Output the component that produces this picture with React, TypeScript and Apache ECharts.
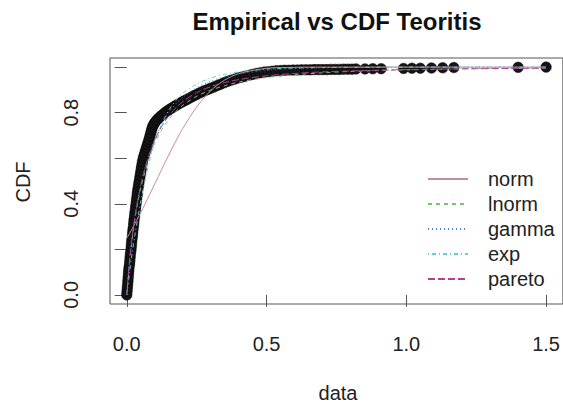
import React, { useEffect, useRef } from "react";
import * as echarts from "echarts";

const ecdfX = [
  0.000, 0.001, 0.002, 0.003, 0.004, 0.005, 0.006, 0.007, 0.008, 0.010,
  0.011, 0.012, 0.013, 0.015, 0.016, 0.017, 0.018, 0.020, 0.021, 0.022,
  0.024, 0.025, 0.026, 0.028, 0.029, 0.031, 0.032, 0.034, 0.035, 0.037,
  0.038, 0.040, 0.042, 0.044, 0.046, 0.048, 0.050, 0.052, 0.054, 0.056,
  0.059, 0.062, 0.065, 0.068, 0.071, 0.074, 0.077, 0.080, 0.083, 0.086,
  0.089, 0.092, 0.096, 0.100, 0.105, 0.110, 0.116, 0.122, 0.128, 0.135,
  0.142, 0.150, 0.158, 0.166, 0.174, 0.182, 0.190, 0.198, 0.206, 0.214,
  0.223, 0.232, 0.241, 0.250, 0.260, 0.270, 0.280, 0.290, 0.300, 0.312,
  0.324, 0.336, 0.348, 0.360, 0.372, 0.385, 0.398, 0.411, 0.424, 0.437,
  0.450, 0.464, 0.478, 0.492, 0.506, 0.520, 0.535, 0.550, 0.565, 0.580,
  0.595, 0.610, 0.625, 0.640, 0.655, 0.670, 0.685, 0.700, 0.715, 0.730,
  0.745, 0.760, 0.775, 0.790, 0.805, 0.820, 0.852, 0.880, 0.910, 0.990,
  1.020, 1.050, 1.090, 1.130, 1.170, 1.400, 1.500,
];
const ecdfY = [
  0.000, 0.015, 0.030, 0.045, 0.060, 0.075, 0.090, 0.105, 0.120, 0.135,
  0.150, 0.165, 0.180, 0.195, 0.210, 0.225, 0.240, 0.255, 0.270, 0.285,
  0.300, 0.315, 0.330, 0.345, 0.360, 0.375, 0.390, 0.405, 0.420, 0.435,
  0.450, 0.465, 0.480, 0.495, 0.510, 0.525, 0.540, 0.555, 0.570, 0.585,
  0.600, 0.612, 0.624, 0.636, 0.648, 0.660, 0.672, 0.684, 0.698, 0.712,
  0.726, 0.738, 0.748, 0.756, 0.764, 0.771, 0.778, 0.785, 0.791, 0.798,
  0.805, 0.812, 0.818, 0.824, 0.830, 0.836, 0.842, 0.847, 0.852, 0.857,
  0.863, 0.869, 0.875, 0.880, 0.886, 0.892, 0.897, 0.902, 0.907, 0.913,
  0.919, 0.925, 0.931, 0.937, 0.942, 0.947, 0.952, 0.956, 0.960, 0.964,
  0.968, 0.972, 0.975, 0.978, 0.980, 0.982, 0.984, 0.985, 0.986, 0.986,
  0.987, 0.987, 0.988, 0.988, 0.988, 0.989, 0.989, 0.989, 0.989, 0.990,
  0.990, 0.990, 0.991, 0.991, 0.991, 0.992, 0.992, 0.993, 0.993, 0.994,
  0.995, 0.995, 0.996, 0.997, 0.998, 0.999, 1.000,
];

const fitX = [
  0, 0.01, 0.02, 0.03, 0.04, 0.05, 0.065, 0.08, 0.1, 0.125, 0.15, 0.175,
  0.2, 0.25, 0.3, 0.35, 0.4, 0.5, 0.6, 0.7, 0.8, 1.0, 1.25, 1.5,
];
const normY = [
  0.249, 0.270, 0.292, 0.314, 0.338, 0.361, 0.398, 0.436, 0.487, 0.551, 0.614, 0.674,
  0.730, 0.825, 0.896, 0.943, 0.971, 0.995, 0.999, 1.0, 1.0, 1.0, 1.0, 1.0,
];
const lnormY = [
  0, 0.14, 0.25, 0.34, 0.41, 0.47, 0.54, 0.60, 0.665, 0.725, 0.77, 0.805,
  0.832, 0.872, 0.899, 0.918, 0.934, 0.954, 0.966, 0.975, 0.981, 0.988, 0.993, 0.995,
];
const gammaY = [
  0, 0.16, 0.27, 0.35, 0.42, 0.48, 0.555, 0.615, 0.685, 0.75, 0.80, 0.838,
  0.866, 0.91, 0.938, 0.957, 0.97, 0.986, 0.994, 0.997, 0.999, 1.0, 1.0, 1.0,
];
const expY = [
  0, 0.10, 0.19, 0.27, 0.34, 0.41, 0.50, 0.58, 0.67, 0.75, 0.81, 0.853,
  0.885, 0.925, 0.952, 0.968, 0.979, 0.991, 0.996, 0.998, 0.999, 1.0, 1.0, 1.0,
];
const paretoY = [
  0, 0.15, 0.26, 0.35, 0.42, 0.48, 0.555, 0.615, 0.68, 0.74, 0.785, 0.82,
  0.848, 0.888, 0.914, 0.932, 0.945, 0.962, 0.972, 0.979, 0.983, 0.989, 0.993, 0.995,
];

const fitNames = ["norm", "lnorm", "gamma", "exp", "pareto"];
const fitValues = [normY, lnormY, gammaY, expY, paretoY];
const fitColors = ["#c98d99", "#78c46c", "#4a80d2", "#5fd0d4", "#b0409c"];
const fitDash: any[] = ["solid", [4, 4], [1, 3], [1, 3, 4, 3], [7, 3]];

const xTicks = [0, 0.5, 1.0, 1.5];
const yTicks = [0, 0.2, 0.4, 0.6, 0.8, 1.0];
const yLabels = [0, 0.4, 0.8];

const FONT = "'Liberation Sans', Arial, sans-serif";

export default function App() {
  const ref = useRef<HTMLDivElement>(null);
  useEffect(() => {
    if (!ref.current) return;
    const chart = echarts.init(ref.current, undefined, { renderer: "svg" });
    const zip = (xs: number[], ys: number[]) => xs.map((x, i) => [x, ys[i]]);
    const series: any[] = [
      {
        type: "scatter",
        name: "empirical",
        data: zip(ecdfX, ecdfY),
        symbol: "circle",
        symbolSize: 10.5,
        itemStyle: { color: "#151515", borderColor: "#000", borderWidth: 0.5, opacity: 1 },
        silent: true,
        z: 2,
      },
      ...fitNames.map((n, k) => ({
        type: "line",
        name: n,
        data: zip(fitX, fitValues[k]),
        symbol: "none",
        showSymbol: false,
        smooth: 0.3,
        lineStyle: { color: fitColors[k], width: 1, type: fitDash[k] },
        itemStyle: { color: fitColors[k] },
        z: 3,
      })),
    ];
    chart.setOption({
      animation: false,
      backgroundColor: "#ffffff",
      grid: {
        left: 110,
        top: 58,
        right: -1,
        bottom: 101,
        show: true,
        borderColor: "#555",
        borderWidth: 1,
        containLabel: false,
      },
      xAxis: {
        type: "value",
        min: -0.06,
        max: 1.56,
        splitLine: { show: false },
        axisLine: { show: false },
        axisTick: {
          show: true,
          inside: false,
          length: 12,
          customValues: xTicks,
          lineStyle: { color: "#555" },
        },
        axisLabel: {
          customValues: xTicks,
          formatter: (v: number) => v.toFixed(1),
          fontSize: 20,
          fontFamily: FONT,
          color: "#222",
          margin: 30,
        },
      },
      yAxis: {
        type: "value",
        min: -0.04,
        max: 1.04,
        splitLine: { show: false },
        axisLine: { show: false },
        axisTick: {
          show: true,
          inside: false,
          length: 12,
          customValues: yTicks,
          lineStyle: { color: "#555" },
        },
        axisLabel: {
          customValues: yLabels,
          formatter: (v: number) => v.toFixed(1),
          rotate: 90,
          fontSize: 20,
          fontFamily: FONT,
          color: "#222",
          margin: 29,
        },
      },
      legend: {
        data: fitNames,
        orient: "vertical",
        left: 427,
        top: 169,
        itemWidth: 40,
        itemHeight: 20,
        itemGap: 5,
        padding: 0,
        itemStyle: { opacity: 0 },
        textStyle: { fontSize: 20, fontFamily: FONT, color: "#222", padding: [0, 0, 0, 15], lineHeight: 20 },
      },
      graphic: [
        {
          type: "text",
          x: 337,
          y: 21,
          style: {
            text: "Empirical vs CDF Teoritis",
            font: `bold 24px ${FONT}`,
            fill: "#111",
            align: "center",
            verticalAlign: "middle",
          },
        },
        {
          type: "text",
          x: 338,
          y: 393,
          style: {
            text: "data",
            font: `20px ${FONT}`,
            fill: "#222",
            align: "center",
            verticalAlign: "middle",
          },
        },
        {
          type: "text",
          x: 23,
          y: 182,
          rotation: Math.PI / 2,
          style: {
            text: "CDF",
            font: `20px ${FONT}`,
            fill: "#222",
            align: "center",
            verticalAlign: "middle",
          },
        },
      ],
      series,
    });
    return () => chart.dispose();
  }, []);
  return (
    <div
      ref={ref}
      style={{ position: "absolute", left: 0, top: 0, width: 563, height: 405 }}
    />
  );
}
